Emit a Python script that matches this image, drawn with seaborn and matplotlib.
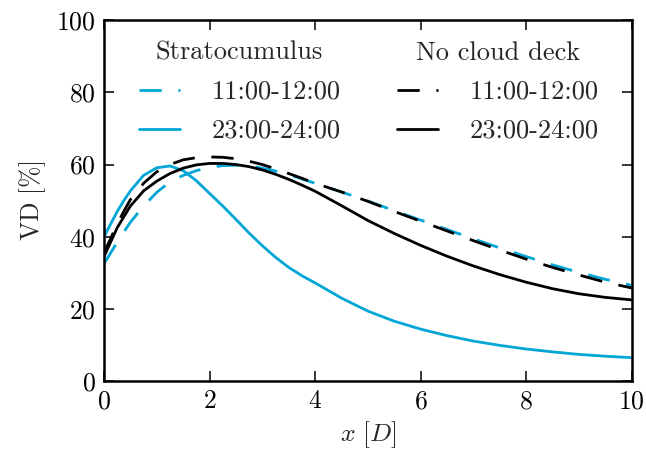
import numpy as np
import pandas as pd
import matplotlib
matplotlib.use("Agg")
import matplotlib.pyplot as plt
import seaborn as sns

# ---- data ----
x_vals = [0, 0.125, 0.25, 0.375, 0.5, 0.75, 1.0, 1.25, 1.5, 1.75, 2.0, 2.25, 2.5, 2.75,
          3.0, 3.25, 3.5, 3.75, 4.0, 4.5, 5.0, 5.5, 6.0, 6.5, 7.0, 7.5, 8.0, 8.5, 9.0, 9.5, 10.0]
strato_11 = [32.5, 35.5, 38.5, 41.3, 44.0, 48.5, 52.3, 55.2, 57.0, 58.3, 59.2, 59.7, 59.8, 59.6,
             59.0, 58.2, 57.2, 56.0, 54.8, 52.4, 49.9, 47.2, 44.6, 42.0, 39.4, 36.9, 34.5, 32.2, 30.1, 28.2, 26.5]
strato_23 = [40.0, 43.5, 47.0, 50.0, 52.7, 57.0, 59.1, 59.6, 58.3, 55.5, 52.0, 48.5, 44.8, 41.0,
             37.5, 34.3, 31.5, 29.2, 27.2, 23.0, 19.4, 16.6, 14.4, 12.6, 11.1, 9.9, 8.9, 8.1, 7.4, 6.9, 6.5]
nocloud_11 = [35.5, 39.5, 43.5, 47.0, 50.3, 54.8, 58.0, 60.0, 61.3, 61.9, 62.1, 62.0, 61.6, 60.9,
              60.0, 58.8, 57.5, 56.2, 54.8, 52.4, 49.8, 47.0, 44.3, 41.6, 38.9, 36.3, 33.8, 31.5, 29.4, 27.4, 25.8]
nocloud_23 = [34.5, 38.5, 42.5, 45.5, 48.5, 52.7, 55.4, 57.5, 59.0, 59.9, 60.3, 60.3, 60.0, 59.4,
              58.5, 57.3, 55.9, 54.3, 52.6, 48.6, 44.5, 40.9, 37.6, 34.6, 31.9, 29.5, 27.4, 25.6, 24.2, 23.2, 22.5]
period_labels = ["11:00-12:00", "23:00-24:00"]
group_titles = ["Stratocumulus", "No cloud deck"]
x_ticks = [0, 2, 4, 6, 8, 10]
y_ticks = [0, 20, 40, 60, 80, 100]

sns.set_theme(style="ticks")
plt.rcParams.update({
    "font.family": ["cmr10", "DejaVu Serif"],
    "mathtext.fontset": "cm",
    "axes.formatter.use_mathtext": True,
    "axes.unicode_minus": False,
    "font.size": 18.5,
    "axes.linewidth": 1.8,
    "xtick.direction": "in",
    "ytick.direction": "in",
    "xtick.top": True,
    "ytick.right": True,
    "xtick.major.size": 7,
    "ytick.major.size": 7,
    "xtick.major.width": 1.1,
    "ytick.major.width": 1.1,
    "xtick.major.pad": 6,
    "ytick.major.pad": 6,
    "xtick.color": "black",
    "ytick.color": "black",
    "axes.edgecolor": "black",
})

blue = "#00A6D6"
black = "#000000"
lw = 2.0
dash = (8.0, 6.0)

fig, ax = plt.subplots(figsize=(6.46, 4.57), dpi=100)
fig.subplots_adjust(left=0.161, right=0.978, top=0.956, bottom=0.166)

series = [
    (strato_11, blue, True),
    (strato_23, blue, False),
    (nocloud_11, black, True),
    (nocloud_23, black, False),
]
lines = []
for vals, col, dashed in series:
    df = pd.DataFrame({"x": x_vals, "y": vals})
    sns.lineplot(data=df, x="x", y="y", ax=ax, color=col, linewidth=lw)
    ln = ax.get_lines()[-1]
    if dashed:
        ln.set_dashes(dash)
    lines.append(ln)

ax.set_xlim(0, 10)
ax.set_ylim(0, 100)
ax.set_xticks(x_ticks)
ax.set_yticks(y_ticks)
ax.set_xlabel(r"$x\ [D]$", fontsize=18.5, labelpad=4)
ax.set_ylabel(r"$\mathrm{VD}\ [\%]$", fontsize=18.5, labelpad=6)
ax.tick_params(labelsize=18.5)

leg_kw = dict(loc="upper left", frameon=False, fontsize=19, title_fontsize=19,
              handlelength=1.55, handletextpad=1.2, labelspacing=0.58,
              borderpad=0, borderaxespad=0)
leg1 = ax.legend(lines[0:2], period_labels, title=group_titles[0],
                 bbox_to_anchor=(0.066, 0.942), **leg_kw)
ax.add_artist(leg1)
leg2 = ax.legend(lines[2:4], period_labels, title=group_titles[1],
                 bbox_to_anchor=(0.555, 0.942), **leg_kw)

fig.savefig("out.png", dpi=100)
